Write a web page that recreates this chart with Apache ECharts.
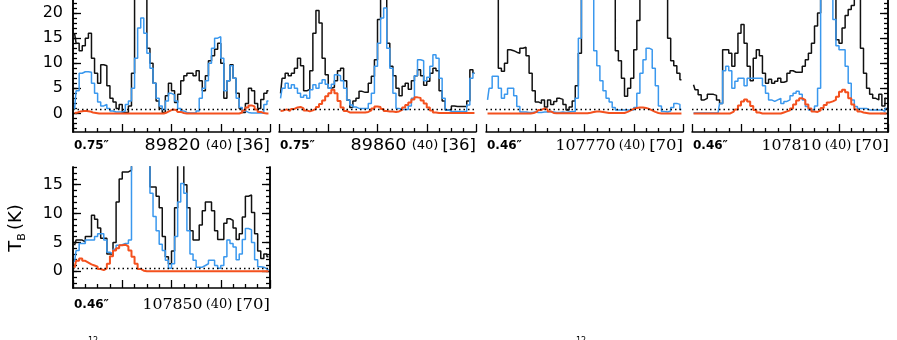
<!DOCTYPE html>
<html>
<head>
<meta charset="utf-8">
<script src="https://cdn.jsdelivr.net/npm/echarts@6/dist/echarts.min.js"></script>
<style>
html, body { margin: 0; padding: 0; background: #fff; }
#chart { width: 897px; height: 340px; }
</style>
</head>
<body>
<div id="chart"></div>
<script>
// panel captions
var beams = ['0.75\u2033', '0.75\u2033', '0.46\u2033', '0.46\u2033', '0.46\u2033'];
var freqs = ['89820', '89860', '107770', '107810', '107850'];
var widths = ['(40)', '(40)', '(40)', '(40)', '(40)'];
var chans = ['[36]', '[36]', '[70]', '[70]', '[70]'];
var yTicksTop = [0, 5, 10, 15, 20];
var yTicksBottom = [0, 5, 10, 15];
var noiseTop = 0.8;
var noiseBottom = 0.5;

// spectra, 64 channels per panel (values in K, >22 runs off the top)
var black1 = [16,14,12.5,13.5,15,16,11,8,6,9.7,9.5,5.5,3,2.3,1,1.8,0.2,0.2,1.5,8,30,35,35,30,13,10,6,2.5,1,0.2,3.5,6,4.5,2.2,3.8,6.5,7.5,8,8,7.5,8.5,6.5,4.5,7.5,10.5,11.5,12.8,14,10,3,6.5,9.7,7,4,1,0.2,2,5,4.5,2,1,2.8,4,4.5];
var blue1 = [0.8,4.5,8,8.3,8.3,8.2,6,4,2.3,1.5,1.8,1,0.5,0.3,0.3,0.3,0.5,1.8,2.5,5,11,17,19,16,12,9,6,3,1.5,0.8,2.5,4,3.7,2.5,1,0.5,0.2,0.1,0.1,0.1,0.5,3,5,6.5,10,13,15,15.3,11,4.5,6.5,9.5,7,3,1.2,0.5,0.2,0.1,0.1,0.1,0.1,0.1,1.8,2.5];
var red1 = [0.1,0.2,0.4,0.5,0.5,0.4,0.2,0.1,0,0,0,0,0,0,0,0,0,0,0,0,0,0,0,0,0,0,0,0,0,0,0.2,0.5,0.8,0.7,0.3,0.1,0,0,0,0,0,0,0,0,0,0,0,0,0,0,0,0,0,0,0.2,0.6,1.2,1.6,1.4,0.8,0.3,0.1,0,0];

var black2 = [4,7,8,7.5,8,9,11,9.5,4.5,4.8,8.5,16,20.5,18,11,7.7,5,5.2,6.5,8.5,9,6.5,2.7,1.2,2.5,3,4.4,4.2,4.2,6,7.4,10.7,18.7,30,30,14,9.4,7.5,5,3.5,5.4,6,4.8,6.5,7.5,8.7,7.5,5.6,6.4,8,9,8.5,4.5,2.5,0.7,0.7,1.5,1.4,1.4,1.4,1.4,2.5,8.7,8];
var blue2 = [3,5,6,5,5.7,5,4,3.2,3.6,3,4.7,5.7,5,6,6.7,5.8,5,5.8,7.7,7.5,6.5,5,2.7,1.7,1.3,1,1,1,1,2,4,9.4,14,19,21,13,9,4,1,0.8,0.8,0.8,1.5,3,7.5,10.7,10.5,6.5,7.2,9.4,11.7,11,7,3,0.7,0.4,0.4,0.4,0.4,0.4,0.4,1.7,7,8];
var red2 = [0.5,0.6,0.8,0.5,0.9,1.2,1.3,1,0.6,0.4,0.6,0.9,1.3,1.9,2.6,3.4,4,4.7,4,2.5,1.2,0.5,0.2,0.2,0.2,0.2,0.2,0.2,0.3,0.6,1,1.4,1.3,0.9,0.5,0.4,0.4,0.3,0.4,0.7,1.2,1.7,2.2,2.8,3.2,3.1,2.6,2,1.2,0.6,0.2,0.1,0.1,0.1,0.1,0.1,0.1,0.1,0.1,0.1,0.1,0.1,0.1,0.1];

var black3 = [30,30,30,25,9,8.4,10,12.7,12.5,12.2,12,13,13.2,11.5,8,4.5,2.3,2,2.7,1.3,2.7,1.8,2.4,3,2.8,1.8,0.7,1.3,2.5,5.5,12,30,30,30,30,30,30,30,30,30,30,30,12.5,10.5,7,3.4,5,7,12.7,18.5,30,30,30,30,30,30,30,30,30,15,10.5,9.5,8,6.7];
var blue3 = [2.7,5,7.4,7.4,5,3,3.8,5,5,3.5,1.4,0.3,0.3,0.2,0.2,0.3,0.2,0.2,0.3,0.3,0.4,0.3,0.2,0.2,0.3,0.2,0.3,0.4,0.4,3,15,30,30,30,26,12.5,9.5,6.5,4.5,3,2.3,1.2,0.7,0.7,0.7,0.7,0.7,0.7,1.2,4,8,10.7,13,12.7,9,5.5,1.5,0.4,0.3,0.5,1.2,2,1.8,0.8];
var red3 = [0,0,0,0,0,0,0,0,0,0,0,0,0,0,0,0.1,0.3,0.7,1,0.8,0.4,0.1,0.05,0.05,0.05,0.05,0.05,0.05,0.05,0.05,0.05,0.05,0.05,0.15,0.3,0.4,0.4,0.3,0.2,0.1,0.1,0.1,0.1,0.1,0.1,0.3,0.6,0.9,1.1,1.2,1.2,1.1,0.9,0.6,0.3,0.1,0,0,0,0,0,0,0,0];

var black4 = [5.7,4.7,3.7,2.7,3,3.8,3.8,3.6,2.7,2,12.7,12.7,12,9.4,12,16,17.7,14,9.4,6.5,11,12.7,11.5,8,6,6.8,6,6.4,7,6.2,6.4,8,8.5,8.2,8.2,8.2,9.4,10.7,12,14,17.4,20,30,30,30,30,25,14.7,14,17,19.5,20.7,21.5,30,30,13,8,5,3.8,3,2.7,3.8,1.5,3];
var blue4 = [0.1,0.1,0.1,0.1,0.1,0.1,0.1,0.1,0.1,2,8.5,9.4,8.5,5,6.4,7,7,5.5,7,7,7,7,7,5.5,4,2.7,2.4,2.7,3,2,2.4,2.7,3.5,4,4.4,3.8,2.7,1.4,0.7,0.7,1.5,5,30,30,30,30,18.7,13.5,12.7,12.7,9.4,6,2.7,1.4,1,1,1,0.7,0.7,0.7,0.7,0.7,0.4,1];
var red4 = [0,0,0,0,0,0,0,0,0,0,0,0,0,0.3,0.8,1.6,2.4,2.8,2.4,1.5,0.7,0.2,0,0,0,0,0,0,0,0.2,0.4,0.6,1,1.8,2.6,3,2.7,1.8,1,0.4,0.3,0.6,1.1,1.7,2.2,2.4,2.7,3.3,4.3,4.7,4.2,3,1.8,0.8,0.4,0.2,0.1,0,0,0,0,0,0,0];

var black5 = [4.5,5.4,5.4,5.1,6,6,9.7,9,7.5,5.7,5.7,3,3,5,12,16,17.2,17.2,17.5,25,25,25,25,25,25,14.6,14.6,13,11,6,2.5,1.3,3.5,11,25,25,15,11,7,5.4,5.4,8,10.5,12,12,10.5,7,5.5,5.5,8.3,9.1,8.8,7.5,5.5,6.5,9.4,13,13.2,10.2,6.5,3.5,2.2,3,2.5];
var blue5 = [1.6,3.6,4.8,4.8,5.4,5.4,5.4,6,6.5,6.5,5.4,3.3,3,3.8,4.5,4.6,4.8,4.8,5.4,25,25,25,25,25,25,13.5,9.5,7,4.7,3.6,1.9,0.5,1.3,6,12,15.2,13.5,7,3,1.9,0.7,0.7,1,1.3,1.9,1.9,1,0.5,1,2.5,5.4,4.8,4.2,2,3,5.5,7.4,7.2,5,2,0.8,0.7,0.4,0.2];
var red5 = [0.6,1.8,2.2,1.8,1.5,1.2,1,0.8,0.4,0.2,0.5,1.3,2.6,3.6,4,4.5,4.6,4.3,3.6,2.5,1.3,0.4,0.1,0,0,0,0,0,0,0,0,0,0,0,0,0,0,0,0,0,0,0,0,0,0,0,0,0,0,0,0,0,0,0,0,0,0,0,0,0,0,0,0,0];

var SANS = 'DejaVu Sans';
var SERIF = 'DejaVu Serif';
var BLACK = '#111111';
var BLUE = '#3a98ee';
var RED = '#f4511e';

var panels = [
    {left: 73, top: 0, width: 197, height: 132, min: -3.7, max: 22.6, ticks: yTicksTop, noise: noiseTop, axisL: true, axisR: false, serif: false, labelY: 146, black: black1, blue: blue1, red: red1},
    {left: 279, top: 0, width: 197, height: 132, min: -3.7, max: 22.6, ticks: yTicksTop, noise: noiseTop, axisL: false, axisR: false, serif: false, labelY: 146, black: black2, blue: blue2, red: red2},
    {left: 486, top: 0, width: 197, height: 132, min: -3.7, max: 22.6, ticks: yTicksTop, noise: noiseTop, axisL: false, axisR: false, serif: true, labelY: 146, black: black3, blue: blue3, red: red3},
    {left: 692, top: 0, width: 196, height: 132, min: -3.7, max: 22.6, ticks: yTicksTop, noise: noiseTop, axisL: false, axisR: true, serif: true, labelY: 146, black: black4, blue: blue4, red: red4},
    {left: 73, top: 167, width: 197, height: 121, min: -2.9, max: 18.06, ticks: yTicksBottom, noise: noiseBottom, axisL: true, axisR: true, serif: true, labelY: 305, black: black5, blue: blue5, red: red5}
];

function toPoints(arr) {
    var w = 16 / arr.length;
    return arr.map(function (v, i) { return [(i + 0.5) * w, v]; });
}

function minorValues(min, max) {
    var out = [];
    for (var v = Math.ceil(min); v <= max; v++) out.push(v);
    return out;
}

function yAxisFor(k, p, side, major, show) {
    return {
        gridIndex: k, type: 'value', min: p.min, max: p.max, position: side,
        axisLine: {show: show, onZero: false, lineStyle: {color: '#000', width: 1.5}},
        axisTick: {show: show, inside: true, length: major ? 8 : 4, customValues: major ? p.ticks : minorValues(p.min, p.max), lineStyle: {color: '#000', width: 1.3}},
        axisLabel: {show: show && major && side === 'left', customValues: p.ticks, margin: 10, color: '#000', fontFamily: SANS, fontSize: 16},
        splitLine: {show: false}
    };
}

function txt(text, x, y, font, align, sx) {
    return {type: 'text', x: x, y: y, scaleX: sx, silent: true,
        style: {text: text, font: font, fill: '#000', align: align, verticalAlign: 'middle'}};
}

var grids = [], xAxes = [], yAxes = [], series = [], graphics = [];

panels.forEach(function (p, k) {
    grids.push({left: p.left, top: p.top, width: p.width, height: p.height, containLabel: false, outerBoundsMode: 'none'});
    xAxes.push({
        gridIndex: k, type: 'value', min: 0, max: 16, interval: 4,
        axisLine: {onZero: false, lineStyle: {color: '#000', width: 1.5}},
        axisTick: {inside: true, length: 8, lineStyle: {color: '#000', width: 1.3}},
        minorTick: {show: true, splitNumber: 4, length: 4, lineStyle: {color: '#000', width: 1.3}},
        axisLabel: {show: false},
        splitLine: {show: false}
    });
    var yi = yAxes.length;
    yAxes.push(yAxisFor(k, p, 'left', true, p.axisL));
    yAxes.push(yAxisFor(k, p, 'left', false, p.axisL));
    yAxes.push(yAxisFor(k, p, 'right', true, p.axisR));
    yAxes.push(yAxisFor(k, p, 'right', false, p.axisR));

    [[p.black, BLACK, 1.5], [p.blue, BLUE, 1.5], [p.red, RED, 2]].forEach(function (s, j) {
        var item = {
            type: 'line', xAxisIndex: k, yAxisIndex: yi, step: 'middle',
            data: toPoints(s[0]), showSymbol: false, symbol: 'none',
            lineStyle: {color: s[1], width: s[2]}, animation: false, silent: true
        };
        if (j === 0) {
            item.markLine = {
                silent: true, symbol: 'none', label: {show: false},
                lineStyle: {type: [1.5, 3], color: '#000', width: 1.3},
                data: [{yAxis: p.noise}]
            };
        }
        series.push(item);
    });

    var ty = p.labelY;
    var ff = p.serif ? SERIF : SANS;
    graphics.push(txt(beams[k], p.left + 1, ty, 'bold 12px ' + SANS, 'left', 1));
    graphics.push(txt(freqs[k], p.left + 99.5, ty, '15px ' + ff, 'center', p.serif ? 1.05 : 1.17));
    graphics.push(txt(widths[k], p.left + 146, ty, '13px ' + ff, 'center', 1));
    graphics.push(txt(chans[k], p.left + 197, ty, '15px ' + ff, 'right', 1.1));
});

// y-axis title, rotated
graphics.push({
    type: 'text', x: 16, y: 228, rotation: Math.PI / 2, silent: true,
    style: {
        text: '{t|T}{s|B} {t|(K)}', align: 'center', verticalAlign: 'middle',
        rich: {
            t: {fontFamily: SANS, fontSize: 18, fill: '#000', lineHeight: 24},
            s: {fontFamily: SANS, fontSize: 11, fill: '#000', lineHeight: 14, verticalAlign: 'bottom'}
        }
    }
});
// cut-off superscripts at the bottom edge
graphics.push(txt('12', 88, 341, '8px ' + SANS, 'left', 1));
graphics.push(txt('12', 576, 341, '8px ' + SANS, 'left', 1));

var chart = echarts.init(document.getElementById('chart'));
chart.setOption({
    animation: false,
    backgroundColor: '#fff',
    grid: grids,
    xAxis: xAxes,
    yAxis: yAxes,
    series: series,
    graphic: graphics
});
</script>
</body>
</html>
